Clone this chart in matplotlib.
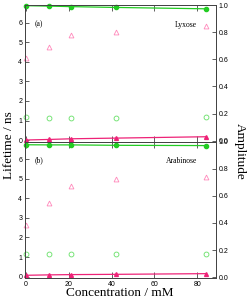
import matplotlib
matplotlib.use("Agg")
import matplotlib.pyplot as plt

# concentration (mM)
conc = [0, 10.5, 21, 42, 84]

# panel (a) Lyxose
lyx_tau1 = [1.17, 1.13, 1.15, 1.13, 1.17]
lyx_tau2 = [4.2, 4.73, 5.38, 5.52, 5.85]
lyx_a1 = [0.995, 0.992, 0.988, 0.982, 0.972]
lyx_a2 = [0.006, 0.01, 0.015, 0.02, 0.03]

# panel (b) Arabinose
ara_tau1 = [1.17, 1.15, 1.17, 1.17, 1.15]
ara_tau2 = [2.64, 3.75, 4.64, 4.97, 5.1]
ara_a1 = [0.976, 0.975, 0.975, 0.972, 0.970]
ara_a2 = [0.015, 0.018, 0.02, 0.022, 0.027]

green = "#22cc22"
lgreen = "#66e066"
pink = "#ee2277"
lpink = "#ff88bb"
frame = "#444444"

plt.rcParams["font.family"] = "Liberation Sans"

fig = plt.figure(figsize=(2.49, 3.02), dpi=100)
left, width, h = 25 / 249, 191 / 249, 136.5 / 302
boxes = [[left, 1 - 141.5 / 302, width, h], [left, 1 - 278 / 302, width, h]]
panels = [
    ("(a)", "Lyxose", lyx_tau1, lyx_tau2, lyx_a1, lyx_a2),
    ("(b)", "Arabinose", ara_tau1, ara_tau2, ara_a1, ara_a2),
]

for i, (tag, name, t1, t2, a1, a2) in enumerate(panels):
    ax = fig.add_axes(boxes[i])
    ax2 = ax.twinx()
    ax.plot(conc, t2, "^", ms=3.5, mfc="none", mec=lpink, mew=0.6, clip_on=False)
    ax.plot(conc, t1, "o", ms=3.5, mfc="none", mec=lgreen, mew=0.6, clip_on=False)
    ax2.plot(conc, a1, "-o", color=green, ms=3, lw=0.9, clip_on=False)
    ax2.plot(conc, a2, "-^", color=pink, ms=2.8, lw=0.9, clip_on=False)

    ax.set_xlim(-0.5, 88.8)
    ax.set_ylim(-0.07, 6.9)
    ax2.set_ylim(-0.005, 1.0)
    ax.set_xticks([0, 20, 40, 60, 80])
    ax.set_yticks(range(7))
    ax2.set_yticks([0.0, 0.2, 0.4, 0.6, 0.8, 1.0])
    ax2.set_yticklabels(["0.0", "0.2", "0.4", "0.6", "0.8", "1.0"])

    ax.tick_params(axis="x", direction="in", top=True, bottom=True, length=4,
                   width=0.6, color=frame, labelsize=5, pad=2,
                   labelbottom=(i == 1))
    ax.tick_params(axis="y", direction="in", length=3, width=0.6, color=frame,
                   labelsize=5, pad=2)
    ax2.tick_params(axis="y", direction="in", length=3, width=0.6, color=frame,
                    labelsize=5, pad=2)
    for a in (ax, ax2):
        for s in a.spines.values():
            s.set_color(frame)
            s.set_linewidth(0.7)

    ax.text(0.05, 0.86, tag, transform=ax.transAxes, family="Liberation Serif",
            fontsize=5.5, va="center")
    ax.text(0.90, 0.855, name, transform=ax.transAxes, family="Liberation Serif",
            fontsize=5.5, va="center", ha="right")

fig.text(0.035, 0.52, "Lifetime / ns", rotation=90, ha="center", va="center",
         family="Liberation Serif", fontsize=9.5)
fig.text(0.965, 0.5, "Amplitude", rotation=270, ha="center", va="center",
         family="Liberation Serif", fontsize=9.5)
fig.text(0.48, 0.03, "Concentration / mM", ha="center", va="center",
         family="Liberation Serif", fontsize=9.5)

fig.savefig("out.png", dpi=100)
